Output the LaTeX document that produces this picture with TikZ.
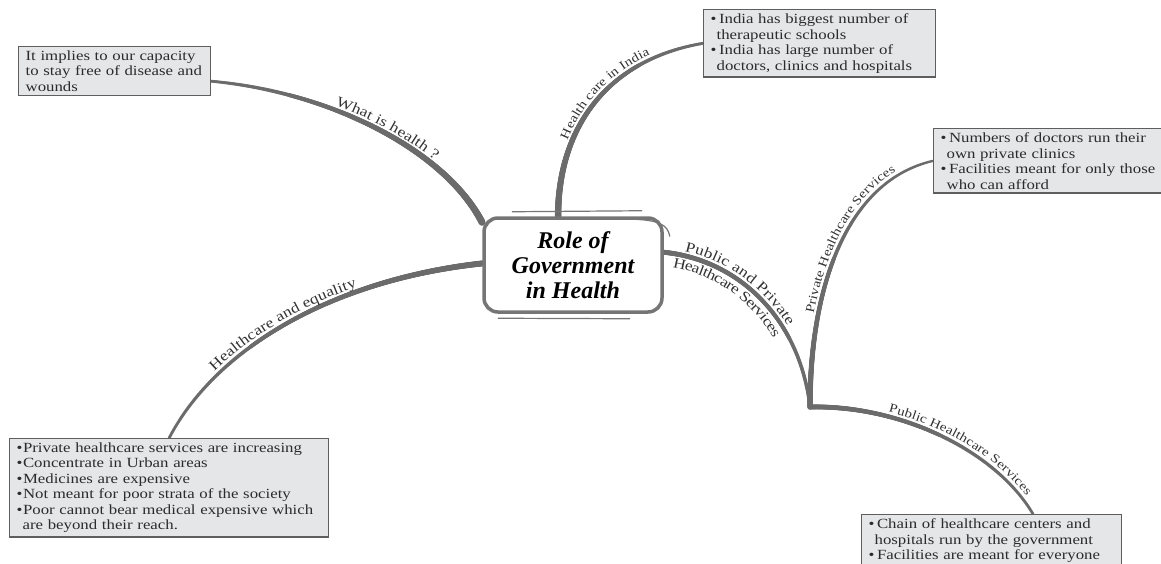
\documentclass[tikz,border=0pt]{standalone}
\usepackage{fontspec}
\setmainfont{Liberation Serif}[FakeStretch=1.2]
\newfontfamily\titlefont{Liberation Serif}
\usetikzlibrary{decorations.text,decorations.markings,backgrounds}
\definecolor{linec}{HTML}{6B6B6B}
\definecolor{boxfill}{HTML}{E4E6E8}
\definecolor{boxdraw}{HTML}{5E5E5E}
\definecolor{txtc}{HTML}{2B2B2B}
\definecolor{lblc}{HTML}{333333}
\definecolor{ctrdraw}{HTML}{757575}
\newcommand\boxfont{\fontsize{14}{15.5}\selectfont}
\newcommand\mmitem[1]{\mbox{\textbullet\hspace{2.5pt}#1}}
\newcommand\mmitemt[1]{\mbox{\textbullet\hspace{0.5pt}#1}}
\newcommand\mmcont[1]{\mbox{\hspace*{6pt}#1}}
\newcommand\mmline[1]{\mbox{#1}}
\tikzset{
  infobox/.style={draw=boxdraw, line width=1.3pt, fill=boxfill, anchor=north west,
    align=left, font=\boxfont, text=txtc, inner xsep=7pt, inner ysep=4pt},
  ctrbox/.style={draw=ctrdraw, line width=3.5pt, fill=white, rounded corners=14pt,
    minimum width=178pt, minimum height=94pt, align=center, text=black,
    font={\titlefont\fontsize{24}{25}\selectfont\bfseries\itshape}},
  sketch/.style={draw=ctrdraw, line width=1.2pt, line cap=round},
  lbl/.style n args={4}{postaction={decorate, decoration={text along path,
    text={|\fontsize{#4}{16}\selectfont|#1}, text color=lblc, raise=#2,
    text align={align=left, left indent=#3}}}},
  taper/.style 2 args={postaction={decorate, decoration={markings,
    mark=between positions 0 and 1 step 0.6pt with {%
      \pgfmathsetmacro\mmr{(#1+(#2-#1)*\pgfkeysvalueof{/pgf/decoration/mark info/distance from start}/\pgfdecoratedpathlength)/2}%
      \fill[linec] (0,0) circle[radius=\mmr pt];}}}}
}
\begin{document}
\begin{tikzpicture}[x=1pt,y=1pt]
\useasboundingbox (0,0) rectangle (1161,-564);
\clip (0,0) rectangle (1161,-564);

% boxes
\node[infobox, text width=178pt] (tl) at (18,-46)
  {\mmline{It implies to our capacity}\\\mmline{to stay free of disease and}\\\mmline{wounds}};
\node[infobox, text width=218pt] (ti) at (703,-9)
  {\mmitem{India has biggest number of}\\\mmcont{therapeutic schools}\\
   \mmitem{India has large number of}\\\mmcont{doctors, clinics and hospitals}};
\node[infobox, text width=228pt] (pr) at (933,-128)
  {\mmitem{Numbers of doctors run their}\\\mmcont{own private clinics}\\
   \mmitem{Facilities meant for only those}\\\mmcont{who can afford}};
\node[infobox, text width=305pt] (bl) at (9,-438)
  {\mmitemt{Private healthcare services are increasing}\\
   \mmitemt{Concentrate in Urban areas}\\
   \mmitemt{Medicines are expensive}\\
   \mmitemt{Not meant for poor strata of the society}\\
   \mmitemt{Poor cannot bear medical expensive which}\\
   \mmcont{are beyond their reach.}};
\node[infobox, text width=246pt] (pu) at (861,-514)
  {\mmitem{Chain of healthcare centers and}\\\mmcont{hospitals run by the government}\\
   \mmitem{Facilities are meant for everyone}};

% central node
\node[ctrbox] (ctr) at (573,-265) {Role of\\Government\\in Health};
\draw[sketch] ([xshift=30pt,yshift=4.5pt]ctr.north west) -- ([xshift=-22pt,yshift=5.5pt]ctr.north east);
\draw[sketch] ([xshift=16pt,yshift=-4.5pt]ctr.south west) -- ([xshift=-34pt,yshift=-5pt]ctr.south east);
\draw[sketch] ([xshift=-30pt,yshift=-3pt]ctr.north east) .. controls ([xshift=-6pt,yshift=-4pt]ctr.north east) and ([xshift=4pt,yshift=-8pt]ctr.north east) .. ([xshift=6pt,yshift=-20pt]ctr.north east);

\coordinate (jn) at (810,-407);
\path (pu.north west) ++(172,0) coordinate (putop);

\begin{scope}[on background layer]
\path[taper={3}{7}, lbl={What is health ?}{4.5pt}{126pt}{14.5}]
  (tl.-6) .. controls (330,-92) and (445,-150) .. (ctr.155);
\path[taper={6.5}{3}, lbl={Health care in India}{4.5pt}{76pt}{12.5}]
  (ctr.107) .. controls (558,-130) and (605,-60) .. (ti.west);
\path[taper={3}{6}, lbl={Healthcare and equality}{4.5pt}{80pt}{14.5}]
  (bl.north) .. controls (215,-350) and (330,-280) .. (ctr.179);
\path[taper={5}{3.5}, lbl={Public and Private}{4.5pt}{20pt}{14.5}, lbl={Healthcare Services}{-14pt}{12pt}{14.5}]
  (ctr.8) .. controls (740,-260) and (800,-320) .. (jn);
\path[taper={5.5}{2.5}, lbl={Private Healthcare Services}{4.5pt}{93pt}{12.5}]
  (jn) .. controls (810,-280) and (850,-180) .. (pr.west);
\path[taper={5}{3}, lbl={Public Healthcare Services}{4.5pt}{78pt}{12.5}]
  (jn) .. controls (900,-405) and (995,-450) .. (putop);
\end{scope}
\end{tikzpicture}
\end{document}
